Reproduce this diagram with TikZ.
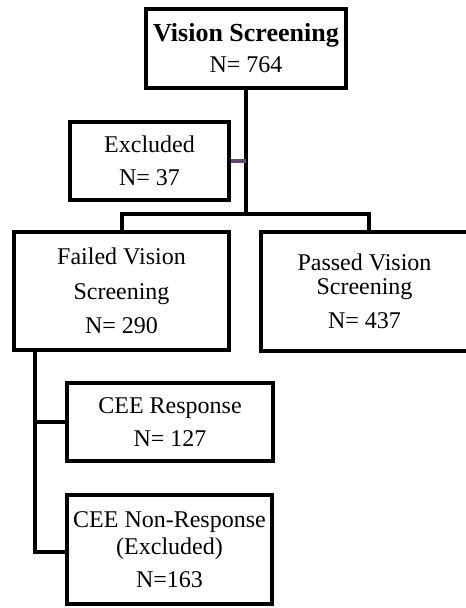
\documentclass[tikz,border=0pt]{standalone}
\usepackage{fontspec}
\setmainfont{Liberation Serif}
\definecolor{linkpurple}{RGB}{96,73,122}

\begin{document}
\begin{tikzpicture}[x=1pt, y=-1pt,
	box/.style={draw, line width=3.5pt, align=center, inner sep=0pt, font=\fontsize{24}{33}\selectfont},
	link/.style={line width=3.5pt}]

	\useasboundingbox (0,0) rectangle (466,608);

	\node[box, minimum width=200pt, minimum height=79pt] (screen) at (246, 48.5) {{\fontsize{26}{33}\selectfont\bfseries Vision Screening}\\[-2pt]N= 764};
	\node[box, minimum width=159pt, minimum height=78pt] (excl) at (149.5, 161) {Excluded\\N= 37};
	\node[box, minimum width=215pt, minimum height=118pt] (failed) at (121.5, 291) {Failed Vision\\[2pt]Screening\\[1pt]N= 290};
	\node[box, minimum width=207pt, minimum height=119pt] (passed) at (364.5, 291.5) {Passed Vision\\[-9pt]Screening\\[1pt]N= 437};
	\node[box, minimum width=206pt, minimum height=78pt] (resp) at (170, 422) {CEE Response\\N= 127};
	\node[box, minimum width=205pt, minimum height=109pt] (nonresp) at (169.5, 549.5) {CEE Non-Response\\[-6pt](Excluded)\\N=163};

	\coordinate (busL) at (122, 214);
	\coordinate (busR) at (369, 214);
	\coordinate (trunk) at (35, 552);

	\draw[link] (screen.south) -- (screen.south |- busL);
	\draw[link, linkpurple] (excl.east) -- (excl.east -| screen.south);
	\draw[link] (busL |- failed.north) -- (busL) -- (busR) -- (busR |- passed.north);
	\draw[link] (failed.south -| trunk) -- (trunk) -- (trunk -| nonresp.west);
	\draw[link] (trunk |- resp.west) -- (resp.west);
\end{tikzpicture}
\end{document}
